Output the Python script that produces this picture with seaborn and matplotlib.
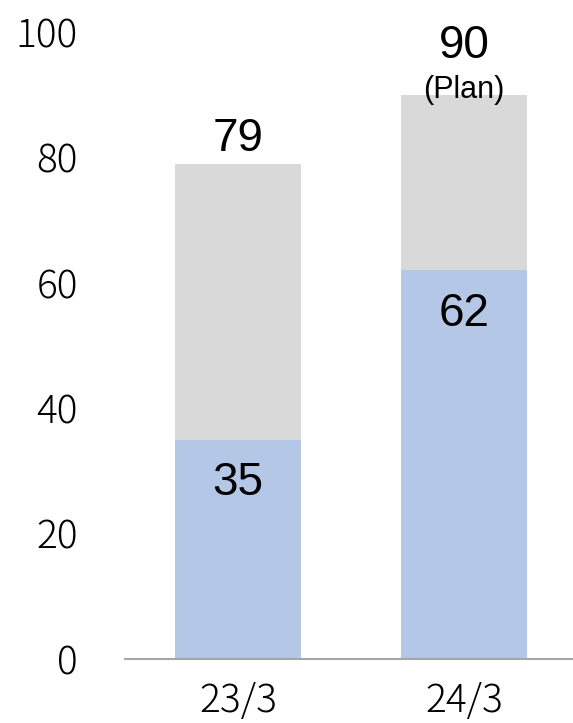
import matplotlib
matplotlib.use("Agg")
import matplotlib.pyplot as plt
import seaborn as sns
import pandas as pd

# Fiscal years and values
periods = ["23/3", "24/3"]
totals = [79, 90]
highlighted = [35, 62]
total_notes = ["", "(Plan)"]
yticks = [0, 20, 40, 60, 80, 100]

sns.set_theme(style="white")
plt.rcParams["font.family"] = ["Liberation Sans", "DejaVu Sans"]

df = pd.DataFrame({"period": periods, "total": totals, "part": highlighted})

fig = plt.figure(figsize=(5.73, 7.23), dpi=100)
ax = fig.add_axes([0.218, 0.0885, 0.782, 0.8672])

bar_w = 0.5575
sns.barplot(data=df, x="period", y="total", color="#D9D9D9", width=bar_w,
            saturation=1, linewidth=0, ax=ax, zorder=2)
sns.barplot(data=df, x="period", y="part", color="#B4C7E7", width=bar_w,
            saturation=1, linewidth=0, ax=ax, zorder=3)

ax.set_xlim(-0.5, 1.482)
ax.set_ylim(0, 100)
ax.set_yticks(yticks)
ax.set_xlabel("")
ax.set_ylabel("")

tick_font = ["Noto Sans CJK JP", "DejaVu Sans"]
ax.set_yticklabels([str(t) for t in yticks], fontsize=28, family=tick_font,
                   fontweight="light")
ax.set_xticklabels(periods, fontsize=28, family=tick_font, fontweight="light")
ax.tick_params(axis="y", length=0, pad=34, colors="black")
ax.tick_params(axis="x", length=0, pad=16, colors="black")

for side in ["left", "right", "top"]:
    ax.spines[side].set_visible(False)
ax.spines["bottom"].set_color("#A6A6A6")
ax.spines["bottom"].set_linewidth(1.5)
ax.spines["bottom"].set_zorder(4)

# Value labels (baseline-anchored)
for i, (tot, part, note) in enumerate(zip(totals, highlighted, total_notes)):
    if note:
        ax.text(i, tot + 5.8, str(tot), ha="center", va="baseline",
                fontsize=33, color="black")
        ax.text(i, tot - 0.6, note, ha="center", va="baseline", fontsize=22,
                color="black")
    else:
        ax.text(i, tot + 2.0, str(tot), ha="center", va="baseline",
                fontsize=33, color="black")
    ax.text(i, part - 8.85, str(part), ha="center", va="baseline",
            fontsize=33, color="black", zorder=5)

fig.savefig("out.png", dpi=100)
